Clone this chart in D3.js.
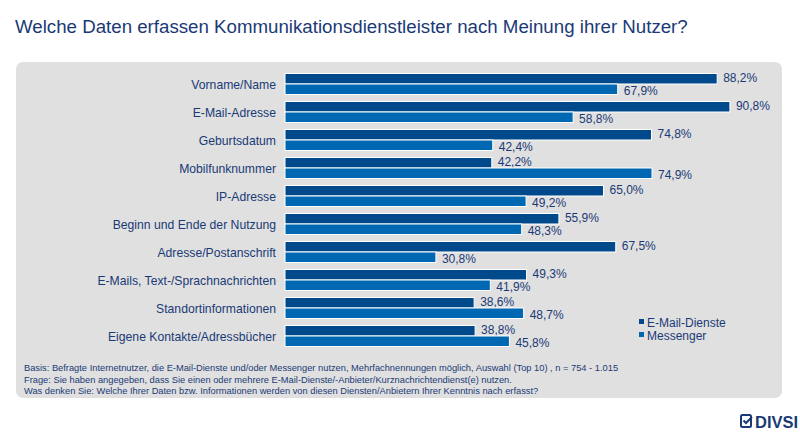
<!DOCTYPE html>
<html>
<head>
<meta charset="utf-8">
<script src="https://cdn.jsdelivr.net/npm/d3@7"></script>
<style>
  body { margin: 0; background: #fff; }
  svg { font-family: "Liberation Sans", Arial, sans-serif; }
</style>
</head>
<body>
<div id="chart"></div>
<script>
const categories = [
    "Vorname/Name", "E-Mail-Adresse", "Geburtsdatum", "Mobilfunknummer", "IP-Adresse",
    "Beginn und Ende der Nutzung", "Adresse/Postanschrift", "E-Mails, Text-/Sprachnachrichten",
    "Standortinformationen", "Eigene Kontakte/Adressbücher"
];
const emailValues = [88.2, 90.8, 74.8, 42.2, 65.0, 55.9, 67.5, 49.3, 38.6, 38.8];
const messengerValues = [67.9, 58.8, 42.4, 74.9, 49.2, 48.3, 30.8, 41.9, 48.7, 45.8];
const seriesNames = ["E-Mail-Dienste", "Messenger"];
const footnotes = [
    "Basis: Befragte Internetnutzer, die E-Mail-Dienste und/oder Messenger nutzen, Mehrfachnennungen möglich, Auswahl (Top 10) , n = 754 - 1.015",
    "Frage: Sie haben angegeben, dass Sie einen oder mehrere E-Mail-Dienste/-Anbieter/Kurznachrichtendienst(e) nutzen.",
    "Was denken Sie: Welche Ihrer Daten bzw. Informationen werden von diesen Diensten/Anbietern Ihrer Kenntnis nach erfasst?"
];

const width = 800, height = 440;
const navy = "#1a3a76";
const colors = ["#004a8c", "#0068b3"];

const svg = d3.select("#chart").append("svg")
    .attr("width", width)
    .attr("height", height);

svg.append("text")
    .attr("x", 15).attr("y", 33)
    .attr("font-size", 18.7)
    .attr("fill", navy)
    .text("Welche Daten erfassen Kommunikationsdienstleister nach Meinung ihrer Nutzer?");

// grey panel
svg.append("rect")
    .attr("x", 16).attr("y", 62)
    .attr("width", 766).attr("height", 336)
    .attr("rx", 7)
    .attr("fill", "#e0e0e0");

const x = d3.scaleLinear().domain([0, 100]).range([285, 775]);
const y = d3.scaleBand().domain(categories).range([70, 350])
    .paddingInner(0.25).paddingOuter(0.125);
const sub = d3.scaleBand().domain(seriesNames).range([0, y.bandwidth()]);

const rows = categories.map((c, i) => ({
    cat: c,
    vals: [
        { s: seriesNames[0], v: emailValues[i], k: 0 },
        { s: seriesNames[1], v: messengerValues[i], k: 1 }
    ]
}));

const row = svg.append("g").selectAll("g")
    .data(rows)
    .enter().append("g")
    .attr("transform", d => `translate(0,${y(d.cat)})`);

row.append("text")
    .attr("x", 276)
    .attr("y", y.bandwidth() / 2 + 4.5)
    .attr("text-anchor", "end")
    .attr("font-size", 12.2)
    .attr("fill", navy)
    .text(d => d.cat);

const bar = row.selectAll("g.bar")
    .data(d => d.vals)
    .enter().append("g")
    .attr("class", "bar");

bar.append("rect")
    .attr("x", x(0))
    .attr("y", d => sub(d.s))
    .attr("width", d => x(d.v) - x(0))
    .attr("height", sub.bandwidth())
    .attr("fill", d => colors[d.k])
    .attr("stroke", "#fff")
    .attr("stroke-width", 1);

bar.append("text")
    .attr("x", d => x(d.v) + 6)
    .attr("y", d => sub(d.s) + sub.bandwidth() / 2 + (d.k === 0 ? 3.5 : 6))
    .attr("font-size", 12)
    .attr("fill", navy)
    .text(d => d3.format(".1f")(d.v).replace(".", ",") + "%");

// legend
const legend = svg.append("g").selectAll("g")
    .data(seriesNames)
    .enter().append("g")
    .attr("transform", (d, i) => `translate(639,${322 + i * 13})`);

legend.append("rect")
    .attr("x", 0).attr("y", -3)
    .attr("width", 5).attr("height", 5)
    .attr("fill", (d, i) => colors[i]);

legend.append("text")
    .attr("x", 8).attr("y", 4.5)
    .attr("font-size", 12)
    .attr("fill", navy)
    .text(d => d);

// footnotes
svg.append("g").selectAll("text")
    .data(footnotes)
    .enter().append("text")
    .attr("x", 24)
    .attr("y", (d, i) => 371 + i * 11.5)
    .attr("font-size", 9.3)
    .attr("fill", navy)
    .text(d => d);

// logo
const logo = svg.append("g").attr("transform", "translate(741,415)");
logo.append("rect")
    .attr("x", 0).attr("y", 0)
    .attr("width", 10).attr("height", 12)
    .attr("rx", 1.5)
    .attr("fill", "none")
    .attr("stroke", navy)
    .attr("stroke-width", 2);
logo.append("path")
    .attr("d", "M2.5,5.5 L5,8 L11,2")
    .attr("fill", "none")
    .attr("stroke", navy)
    .attr("stroke-width", 2);
logo.append("text")
    .attr("x", 14).attr("y", 13)
    .attr("font-size", 16.5)
    .attr("font-weight", "bold")
    .attr("fill", navy)
    .text("DIVSI");
</script>
</body>
</html>
